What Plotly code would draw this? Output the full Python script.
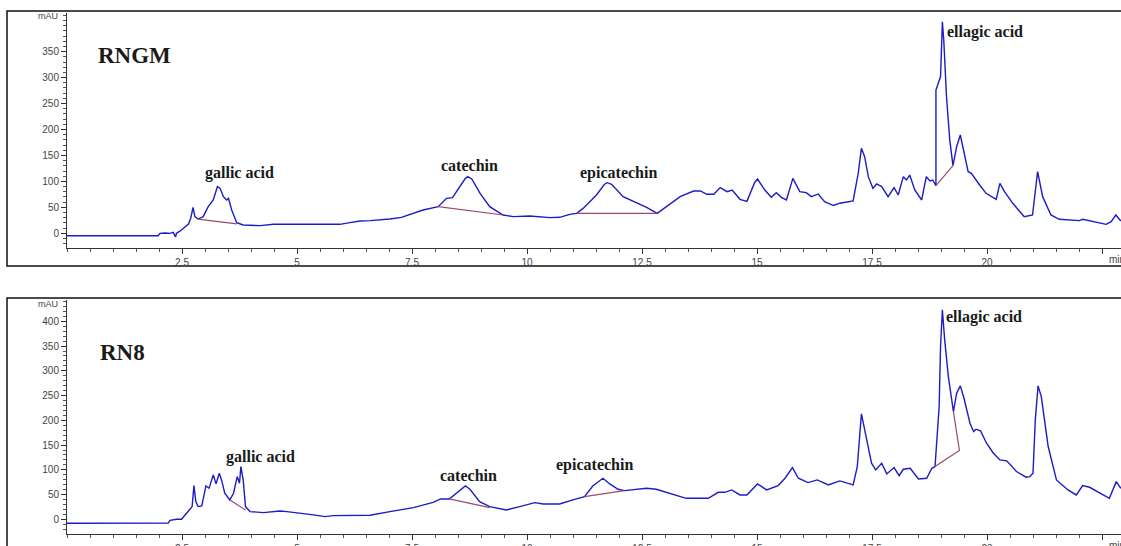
import plotly.graph_objects as go

# ---------------- data ----------------
top_time = [0, 1.11, 1.98, 2.02, 2.13, 2.24, 2.31, 2.36, 2.38, 2.49, 2.64, 2.69, 2.74, 2.78, 2.85, 2.96,
            3.07, 3.18, 3.27, 3.33, 3.40, 3.47, 3.51, 3.58, 3.69, 3.83, 4.20, 4.49, 5.06, 5.93, 6.15, 6.37,
            6.59, 7.02, 7.27, 7.53, 7.74, 8.07, 8.25, 8.38, 8.54, 8.65, 8.71, 8.80, 8.98, 9.19, 9.48, 9.70,
            10.06, 10.32, 10.5, 10.71, 10.93, 11.08, 11.22, 11.51, 11.68, 11.74, 11.84, 12.09, 12.38, 12.60,
            12.83, 13.04, 13.33, 13.62, 13.77, 13.91, 14.06, 14.20, 14.35, 14.46, 14.63, 14.78, 14.95, 15.01,
            15.17, 15.31, 15.42, 15.53, 15.64, 15.78, 15.93, 16.07, 16.18, 16.33, 16.47, 16.66, 16.80, 17.09,
            17.20, 17.27, 17.34, 17.42, 17.52, 17.60, 17.71, 17.85, 17.98, 18.07, 18.18, 18.25, 18.32, 18.43,
            18.58, 18.68, 18.76, 18.82, 18.89, 18.89, 18.96, 18.99, 19.03, 19.06, 19.12, 19.19, 19.26, 19.34,
            19.42, 19.49, 19.59, 19.66, 19.73, 19.84, 19.98, 20.2, 20.28, 20.38, 20.56, 20.81, 20.99, 21.10,
            21.21, 21.39, 21.57, 22.01, 22.08, 22.23, 22.59, 22.70, 22.8, 22.91]
top_mau = [-4.6, -4.8, -4.6, -0.1, 0.7, -0.1, 1.8, -7.2, 0, 6.4, 18, 29, 50, 32, 27.5, 32,
           51.3, 64.2, 89.9, 86.6, 70.6, 64.2, 67.4, 44.9, 20.5, 16, 14.7, 17.3, 17.3, 17.3, 20.5, 23.8,
           24.5, 27.5, 30.7, 38.4, 44.9, 51.3, 67.4, 68.7, 89.9, 104.5, 109.1, 104.6, 77, 51.3, 35.3, 32.1,
           33.4, 32.1, 30.2, 30.8, 36.5, 38.4, 48, 73.8, 94.0, 97.5, 94.3, 70.6, 59.6, 50,
           38.4, 51.3, 70.6, 81.5, 81.5, 75.1, 75.1, 88, 80.2, 83.4, 65.5, 61.6, 98.0, 104.6,
           83.4, 69.3, 78.3, 69.3, 64.2, 105.9, 80.2, 78.3, 70.6, 75.8, 61.1, 53.5, 58, 62.4,
           115.5, 163.7, 147.7, 109.1, 86.6, 95, 89.9, 70.6, 88, 73.8, 109.1, 102.7, 112.3, 83.4,
           64.2, 109.1, 100.8, 102.7, 91.8, 276, 292, 302, 407.7, 372, 263, 180, 130.3, 166.9,
           189.4, 160.5, 118.7, 115.5, 105.9, 93, 77, 65.5, 96.3, 80.2, 57.8, 32.1, 35.3, 118.7,
           70.6, 35.3, 27, 24.4, 27, 23.8, 17.3, 22.5, 35.3, 23.8]

bot_time = [0, 0.87, 1.23, 2.2, 2.24, 2.38, 2.49, 2.57, 2.67, 2.72, 2.76, 2.80, 2.85, 2.93, 3.02, 3.09,
            3.18, 3.24, 3.31, 3.36, 3.43, 3.54, 3.62, 3.70, 3.75, 3.78, 3.83, 3.88, 3.98, 4.27, 4.63, 4.78,
            5.36, 5.61, 5.79, 6.59, 7.02, 7.53, 7.96, 8.12, 8.31, 8.47, 8.66, 8.76, 8.97, 9.19, 9.55, 9.84,
            10.17, 10.35, 10.71, 11.00, 11.25, 11.43, 11.65, 11.80, 11.98, 12.12, 12.38, 12.60, 12.81, 13.10,
            13.46, 13.94, 14.16, 14.30, 14.45, 14.63, 14.78, 15.01, 15.21, 15.46, 15.61, 15.77, 15.90, 16.11,
            16.31, 16.55, 16.80, 17.09, 17.18, 17.27, 17.37, 17.49, 17.58, 17.71, 17.82, 17.98, 18.09, 18.18,
            18.33, 18.51, 18.69, 18.80, 18.87, 18.90, 18.96, 18.99, 19.03, 19.08, 19.16, 19.27, 19.34, 19.42,
            19.50, 19.63, 19.71, 19.76, 19.86, 19.99, 20.14, 20.28, 20.43, 20.64, 20.85, 20.93, 21.0, 21.05,
            21.11, 21.18, 21.33, 21.51, 21.76, 21.94, 22.08, 22.23, 22.45, 22.66, 22.81, 22.91]
bot_mau = [-8.1, -8.1, -8.1, -7.4, -2.1, 0, 0, 8.7, 19, 25.7, 68.1, 35.8, 25.7, 27.1, 67.5, 62.8,
           89.7, 71.5, 93.1, 79.6, 52.6, 39.1, 52.6, 86.3, 72.8, 106.5, 79.6, 25.7, 15.6, 13.5, 16.8, 15.6,
           8.9, 5.5, 7.5, 8.2, 15.4, 23.5, 34.3, 41.1, 41.1, 53.9, 67.3, 60.6, 35.7, 25.6, 18.9, 25.6,
           33.7, 31, 31, 39.1, 45.8, 67.3, 82.8, 71.4, 60.6, 57.9, 60.6, 62.6, 60.6, 52.5,
           42.4, 42.4, 54.5, 54.5, 59.3, 49.2, 49.2, 71.5, 59.3, 68.1, 82.9, 104.5, 82.9, 74.1,
           79.5, 69.4, 77.5, 69.4, 106.5, 212.9, 167.1, 113.3, 99.8, 113.3, 91.7, 104.5, 88.3, 101.1,
           103.1, 81.6, 82.9, 103.1, 106.5, 143.5, 227.7, 349, 423, 362.4, 288.4, 217.7, 254.7, 269.5,
           244.6, 194.1, 177.3, 182, 178.6, 153.7, 133.5, 120, 118, 96.5, 85, 86.3, 93.1, 200.8,
           269.5, 248, 147, 79.5, 59.3, 49.2, 68.1, 64.7, 52.5, 42.4, 76.1, 62.6]

# integration baselines (None separates the segments)
top_base_time = [2.85, 3.69, None, 8.07, 9.48, None, 11.08, 12.83, None, 18.89, 19.26]
top_base_mau = [27.5, 18.0, None, 51.3, 35.3, None, 38.4, 38.4, None, 91.8, 130.3]
bot_base_time = [3.54, 3.88, None, 8.31, 9.19, None, 11.25, 12.12, None, 18.87, 19.40, 19.27]
bot_base_mau = [39.1, 19.0, None, 41.1, 23.6, None, 45.8, 57.9, None, 106.5, 139.0, 217.7]

# peak labels
top_labels = ["gallic acid", "catechin", "epicatechin", "ellagic acid"]
top_label_time = [3.74, 8.75, 11.98, 19.95]
top_label_mau = [116, 130, 115.5, 388]
bot_labels = ["gallic acid", "catechin", "epicatechin", "ellagic acid"]
bot_label_time = [4.2, 8.73, 11.46, 19.93]
bot_label_mau = [125, 89.5, 109, 409]

sample_names = ["RNGM", "RN8"]
sample_time = [1.46, 1.2]
sample_mau = [343, 337]

x_tickvals = [2.5, 5, 7.5, 10, 12.5, 15, 17.5, 20, 22.5]
x_ticktext = ["2.5", "5", "7.5", "10", "12.5", "15", "17.5", "20", ""]
top_ytick = [0, 50, 100, 150, 200, 250, 300, 350]
bot_ytick = [0, 50, 100, 150, 200, 250, 300, 350, 400]

# ---------------- figure ----------------
W, H = 1121, 546
def px(x):
    return x / W
def py(y):
    return 1 - y / H

CURVE = "#1c1cc4"
BASE = "#9a4a6c"
TXT = "#1a1a1a"

fig = go.Figure()
fig.add_trace(go.Scatter(x=top_time, y=top_mau, mode="lines", line=dict(color=CURVE, width=1.4),
                         xaxis="x", yaxis="y", hoverinfo="skip"))
fig.add_trace(go.Scatter(x=top_base_time, y=top_base_mau, mode="lines", line=dict(color=BASE, width=1.2),
                         xaxis="x", yaxis="y", hoverinfo="skip", connectgaps=False))
fig.add_trace(go.Scatter(x=bot_time, y=bot_mau, mode="lines", line=dict(color=CURVE, width=1.4),
                         xaxis="x2", yaxis="y2", hoverinfo="skip"))
fig.add_trace(go.Scatter(x=bot_base_time, y=bot_base_mau, mode="lines", line=dict(color=BASE, width=1.2),
                         xaxis="x2", yaxis="y2", hoverinfo="skip", connectgaps=False))

tickfont = dict(family="Liberation Sans, Arial, sans-serif", size=10, color="#444")
xdom = [px(67), 1.0]
xrange_ = [0, (W - 67) / 46.0]

def xax(anchor):
    return dict(domain=xdom, range=xrange_, anchor=anchor, automargin=False, showgrid=False,
                zeroline=False, showline=True, linecolor="#333", linewidth=1, ticks="outside",
                ticklen=5, tickcolor="#333", tickvals=x_tickvals, ticktext=x_ticktext, tickfont=tickfont,
                minor=dict(dtick=0.5, tick0=0, ticks="outside", ticklen=3, tickcolor="#555"))

def yax(anchor, dom, rng, tv):
    return dict(domain=dom, range=rng, anchor=anchor, automargin=False, showgrid=False,
                zeroline=False, showline=True, linecolor="#333", linewidth=1, ticks="outside",
                ticklen=5, tickcolor="#333", tickvals=tv, tickfont=tickfont,
                minor=dict(dtick=10, tick0=0, ticks="outside", ticklen=3, tickcolor="#555"))

fig.update_layout(
    width=W, height=H, margin=dict(l=0, r=0, t=0, b=0, autoexpand=False),
    paper_bgcolor="white", plot_bgcolor="white", showlegend=False,
    xaxis=xax("y"),
    yaxis=yax("x", [py(248), py(13)], [(233.3 - 248) / 0.519, (233.3 - 13) / 0.519], top_ytick),
    xaxis2=xax("y2"),
    yaxis2=yax("x2", [py(534), py(300)], [(519.3 - 534) / 0.495, (519.3 - 300) / 0.495], bot_ytick),
)

ann = []
lab_font = dict(family="Liberation Serif, Times New Roman, serif", size=16, color=TXT)
big_font = dict(family="Liberation Serif, Times New Roman, serif", size=23, color=TXT)
for t, x, y in zip(top_labels, top_label_time, top_label_mau):
    ann.append(dict(x=x, y=y, xref="x", yref="y", text="<b>%s</b>" % t, showarrow=False, font=lab_font))
for t, x, y in zip(bot_labels, bot_label_time, bot_label_mau):
    ann.append(dict(x=x, y=y, xref="x2", yref="y2", text="<b>%s</b>" % t, showarrow=False, font=lab_font))
ann.append(dict(x=sample_time[0], y=sample_mau[0], xref="x", yref="y", text="<b>%s</b>" % sample_names[0],
                showarrow=False, font=big_font))
ann.append(dict(x=sample_time[1], y=sample_mau[1], xref="x2", yref="y2", text="<b>%s</b>" % sample_names[1],
                showarrow=False, font=big_font))
small = dict(family="Liberation Sans, Arial, sans-serif", size=9, color="#444")
for yy in (16, 304):
    ann.append(dict(x=px(47.5), y=py(yy), xref="paper", yref="paper", text="mAU", showarrow=False,
                    font=small, xanchor="center", yanchor="middle"))
for yy in (259, 545):
    ann.append(dict(x=px(1107), y=py(yy), xref="paper", yref="paper", text="min", showarrow=False,
                    font=tickfont, xanchor="left", yanchor="middle"))
fig.update_layout(annotations=ann)

# panel frames
fig.add_shape(type="rect", xref="paper", yref="paper", x0=px(7), x1=px(1130), y0=py(266), y1=py(11),
              line=dict(color="#111", width=1.5), fillcolor="rgba(0,0,0,0)", layer="below")
fig.add_shape(type="rect", xref="paper", yref="paper", x0=px(7), x1=px(1130), y0=py(560), y1=py(298),
              line=dict(color="#111", width=1.5), fillcolor="rgba(0,0,0,0)", layer="below")

fig.write_html("out.html")
